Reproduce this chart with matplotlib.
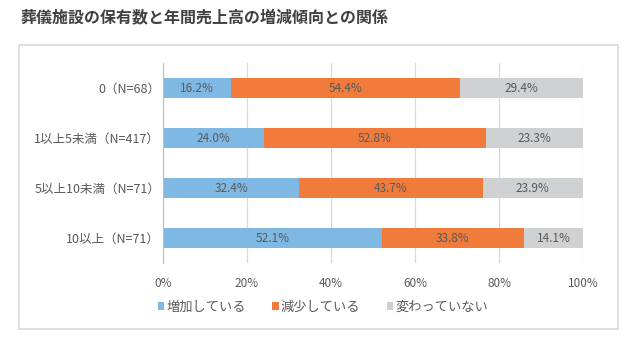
import matplotlib
matplotlib.use("Agg")
import matplotlib.pyplot as plt
from matplotlib.patches import Rectangle
import numpy as np

plt.rcParams['font.family'] = ['Noto Sans CJK JP', 'DejaVu Sans']

title = "葬儀施設の保有数と年間売上高の増減傾向との関係"
categories = ["0（N=68）", "1以上5未満（N=417）", "5以上10未満（N=71）", "10以上（N=71）"]
series_names = ["増加している", "減少している", "変わっていない"]
increase = [16.2, 24.0, 32.4, 52.1]
decrease = [54.4, 52.8, 43.7, 33.8]
unchanged = [29.4, 23.3, 23.9, 14.1]
xticks = [0, 20, 40, 60, 80, 100]
colors = ["#7fb8e2", "#f07b3b", "#d0d1d3"]

W, H = 635, 351
fig = plt.figure(figsize=(W / 100, H / 100), dpi=100)
fig.patch.set_facecolor("white")

# outer box
fig.add_artist(Rectangle((19 / W, 1 - 329 / H), (618 - 19) / W, (329 - 45) / H,
                         transform=fig.transFigure, fill=False,
                         edgecolor="#d9d9d9", linewidth=1.2))

fig.text(20 / W, 1 - 18 / H, title, fontsize=11.5, fontweight="bold",
         color="#404040", va="center", ha="left")

ax = fig.add_axes([163 / W, 1 - 263 / H, (583 - 163) / W, (263 - 63) / H])
y = np.arange(len(categories))
data = [increase, decrease, unchanged]
left = np.zeros(len(categories))
for vals, c, name in zip(data, colors, series_names):
    vals = np.array(vals)
    ax.barh(y, vals, left=left, height=0.4, color=c, label=name, zorder=3)
    for yi, l, v in zip(y, left, vals):
        ax.text(l + v / 2, yi, f"{v:.1f}%", ha="center", va="center",
                fontsize=8.5, color="#595959", zorder=4)
    left = left + vals

ax.set_xlim(0, 100)
ax.set_ylim(3.5, -0.5)
ax.set_yticks(y)
ax.set_yticklabels(categories, fontsize=9, color="#595959")
ax.set_xticks(xticks)
ax.set_xticklabels([f"{t}%" for t in xticks], fontsize=8.5, color="#595959")
ax.tick_params(axis="y", length=0, pad=2)
ax.tick_params(axis="x", length=0, pad=10)
ax.grid(axis="x", color="#d9d9d9", linewidth=0.9, zorder=0)
for s in ["top", "right", "bottom"]:
    ax.spines[s].set_visible(False)
ax.spines["left"].set_color("#bfbfbf")
ax.spines["left"].set_zorder(5)

leg = fig.legend(loc="center left", bbox_to_anchor=(146 / W, 1 - 307 / H),
                 ncol=3, frameon=False, fontsize=9.5, handlelength=0.5,
                 handleheight=0.5, handletextpad=0.15, columnspacing=2.0,
                 labelcolor="#595959")

fig.savefig("out.png", dpi=100, facecolor="white")
